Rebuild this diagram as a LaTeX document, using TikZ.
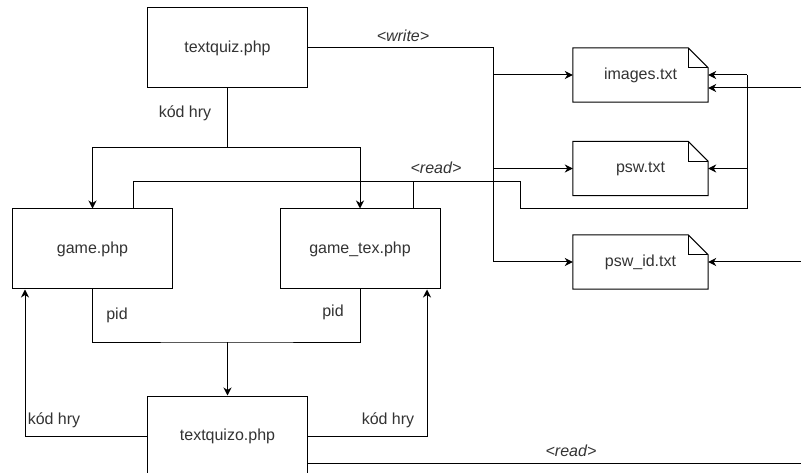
\documentclass[tikz,border=0pt]{standalone}
\usepackage{fontspec}
\setmainfont{Liberation Sans}
\usetikzlibrary{arrows.meta}
\begin{document}
\begin{tikzpicture}[x=1pt,y=-1pt,
  every node/.style={font=\fontsize{16}{19}\selectfont, text=black!80},
  box/.style={draw, line width=1pt, minimum width=160pt, minimum height=80pt, inner sep=0pt},
  doc/.style={minimum width=135pt, minimum height=54pt, inner sep=0pt},
  conn/.style={line width=1pt},
  arr/.style={conn, -{Stealth[length=8pt,width=8pt,inset=2.5pt]}},
  lbl/.style={inner sep=0pt},
  ilbl/.style={inner sep=0pt, font=\fontsize{16}{19}\selectfont\itshape}
]
\useasboundingbox (0,0) rectangle (801,473);
\clip (0,0) rectangle (801,473);
\fill[white] (0,0) rectangle (801,473);

% process boxes
\node[box] (tq) at (227.5,48) {textquiz.php};
\node[box] (game) at (92.5,249) {game.php};
\node[box] (gtex) at (360,249) {game\_tex.php};
\node[box] (tqo) at (227.5,436) {textquizo.php};

% documents
\node[doc] (img) at (640.5,75) {images.txt};
\node[doc] (psw) at (640.5,168.5) {psw.txt};
\node[doc] (pid) at (640.5,262) {psw\_id.txt};
\foreach \n in {img,psw,pid}{
  \draw[line width=1pt] (\n.north west) -- ([xshift=-20pt]\n.north east) -- ([yshift=-20pt]\n.north east) -- (\n.south east) -- (\n.south west) -- cycle;
  \draw[line width=0.8pt] ([xshift=-20pt]\n.north east) -- ([xshift=-20pt,yshift=-20pt]\n.north east) -- ([yshift=-20pt]\n.north east);
}

% junction coordinates
\coordinate (w1) at (493,48);
\coordinate (w2) at (493,262);
\coordinate (k0) at (227.5,148);
\coordinate (r1) at (133,182);
\coordinate (r2) at (520,182);
\coordinate (r3) at (520,209);
\coordinate (r4) at (747,209);
\coordinate (r5) at (747,75);
\coordinate (p0) at (227.5,342);
\coordinate (eImg) at (801,88);
\coordinate (ePid) at (801,262);
\coordinate (eRead) at (801,463);

% write
\draw[conn] (tq.east) -- (w1) -- (w2);
\draw[arr] (493,75) -- (img.west);
\draw[arr] (493,168.5) -- (psw.west);
\draw[arr] (w2) -- (pid.west);
\node[ilbl] at (403,36) {<write>};

% kod hry from textquiz
\draw[conn] (tq.south) -- (k0);
\draw[arr] (k0) -| (game.north);
\draw[arr] (k0) -| (gtex.north);
\node[lbl] at (185,113) {kód hry};

% read from game / game_tex
\draw[conn] ([xshift=40.5pt]game.north) -- (r1) -- (r2) -- (r3) -- (r4) -- (r5);
\draw[conn] ([xshift=53pt]gtex.north) -- (413,182);
\draw[arr] (r5) -- (img.east |- r5);
\draw[arr] (747,168.5) -- (psw.east);
\node[ilbl] at (436,168) {<read>};

% pid
\draw[conn] (game.south) |- (p0) -| (gtex.south);
\draw[arr] (p0) -- (tqo.north);
\node[lbl] at (117,315) {pid};
\node[lbl] at (333,312) {pid};

% kod hry from textquizo
\draw[arr] (tqo.west) -| ([xshift=-67.5pt]game.south);
\draw[arr] (tqo.east) -| ([xshift=67pt]gtex.south);
\node[lbl] at (54,420) {kód hry};
\node[lbl] at (388,420) {kód hry};

% external
\draw[conn] (tqo.east |- eRead) -- (eRead);
\node[ilbl] at (571,451) {<read>};
\draw[arr] (eImg) -- (img.east |- eImg);
\draw[arr] (ePid) -- (pid.east);
\end{tikzpicture}
\end{document}
